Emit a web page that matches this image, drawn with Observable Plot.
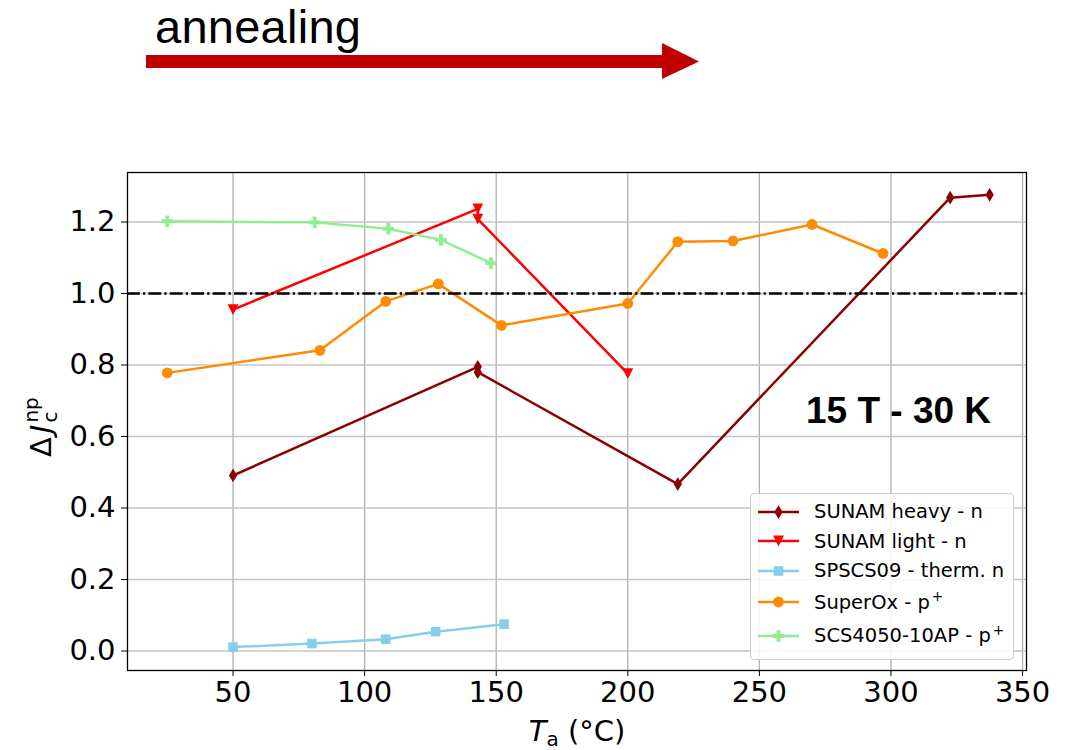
<!DOCTYPE html>
<html>
<head>
<meta charset="utf-8">
<script src="https://cdn.jsdelivr.net/npm/d3@7"></script>
<script src="https://cdn.jsdelivr.net/npm/@observablehq/plot@0.6"></script>
<style>
  body { margin: 0; background: #fff; }
  #wrap { position: relative; width: 1066px; height: 750px; overflow: hidden; font-family: "DejaVu Sans", sans-serif; }
  #header { display: block; }
  #chart svg { display: block; }
  #overlay { position: absolute; left: 0; top: 0; pointer-events: none; }
  #legend { position: absolute; left: 750px; top: 493px; width: 264px; height: 167px; box-sizing: border-box;
            border: 1px solid #cccccc; border-radius: 4px; background: rgba(255,255,255,0.85); padding-top: 3px; }
  .lrow { display: flex; align-items: center; font-size: 19.5px; color: #000; }
  .lrow svg { margin-left: 5px; margin-right: 15px; flex: none; }
  .lrow sup { font-size: 0.7em; vertical-align: 0.55em; line-height: 0; margin-left: 2px; }
</style>
</head>
<body>
<div id="wrap">
  <svg id="header" width="1066" height="130">
    <text x="155" y="43" font-family="Liberation Sans, Arial, sans-serif" font-size="47" textLength="206" fill="#000">annealing</text>
    <rect x="146" y="55" width="517" height="13" fill="#c00000"></rect>
    <polygon points="662,43 699,61.5 662,79" fill="#c00000"></polygon>
  </svg>
  <div id="chart"></div>
  <svg id="overlay" width="1066" height="750"></svg>
  <div id="legend"></div>
</div>
<script>
// ---------- data ----------
const seriesNames = ["SUNAM heavy - n", "SUNAM light - n", "SPSCS09 - therm. n", "SuperOx - p", "SCS4050-10AP - p"];
const seriesSup = ["", "", "", "+", "+"];
const seriesColors = ["#8b0000", "#ff0000", "#87ceeb", "#ff8c00", "#90ee90"];

const T_heavy = [50, 143, 143, 219, 322.5, 337.5];
const J_heavy = [0.491, 0.795, 0.780, 0.467, 1.268, 1.276];

const T_light = [50, 143, 143, 200];
const J_light = [0.955, 1.237, 1.208, 0.776];

const T_spscs = [50, 80, 108, 127, 153];
const J_spscs = [0.011, 0.021, 0.033, 0.054, 0.075];

const T_superox = [25, 83, 108, 128, 152, 200, 219, 240, 270, 297];
const J_superox = [0.778, 0.841, 0.978, 1.027, 0.911, 0.972, 1.145, 1.147, 1.193, 1.112];

const T_scs = [25, 81, 109, 129, 148];
const J_scs = [1.202, 1.199, 1.181, 1.150, 1.085];

const xTicks = [50, 100, 150, 200, 250, 300, 350];
const yTicks = [0.0, 0.2, 0.4, 0.6, 0.8, 1.0, 1.2];
const refLevel = [1.0];
const annotation = "15 T - 30 K";

// ---------- marker symbols (matplotlib-like) ----------
const rad = size => Math.sqrt(size / Math.PI);
const thinDiamond = { draw(ctx, size) { const r = rad(size);
  ctx.moveTo(0, -1.25 * r); ctx.lineTo(0.75 * r, 0); ctx.lineTo(0, 1.25 * r); ctx.lineTo(-0.75 * r, 0); ctx.closePath(); } };
const triDown = { draw(ctx, size) { const r = rad(size);
  ctx.moveTo(-r, -r); ctx.lineTo(r, -r); ctx.lineTo(0, r); ctx.closePath(); } };
const squareSym = { draw(ctx, size) { const r = rad(size);
  ctx.rect(-r, -r, 2 * r, 2 * r); } };
const circleSym = { draw(ctx, size) { const r = rad(size);
  ctx.moveTo(r, 0); ctx.arc(0, 0, r, 0, 2 * Math.PI); ctx.closePath(); } };
const plusFilled = { draw(ctx, size) { const r = rad(size), a = r / 3;
  ctx.moveTo(-a, -r); ctx.lineTo(a, -r); ctx.lineTo(a, -a); ctx.lineTo(r, -a); ctx.lineTo(r, a); ctx.lineTo(a, a);
  ctx.lineTo(a, r); ctx.lineTo(-a, r); ctx.lineTo(-a, a); ctx.lineTo(-r, a); ctx.lineTo(-r, -a); ctx.lineTo(-a, -a); ctx.closePath(); } };

const seriesT = [T_heavy, T_light, T_spscs, T_superox, T_scs];
const seriesJ = [J_heavy, J_light, J_spscs, J_superox, J_scs];
const seriesSym = [thinDiamond, triDown, squareSym, circleSym, plusFilled];
const seriesR = [5.5, 5.4, 4.8, 5.4, 5.8];

const series = seriesNames.map((name, i) => ({
  name, color: seriesColors[i], symbol: seriesSym[i], r: seriesR[i],
  rows: seriesT[i].map((t, k) => ({ T: t, J: seriesJ[i][k] }))
}));

// ---------- chart ----------
const marks = [
  Plot.gridX(xTicks, { stroke: "#b0b0b0", strokeOpacity: 1, strokeWidth: 1.3 }),
  Plot.gridY(yTicks, { stroke: "#c4c4c4", strokeOpacity: 1, strokeWidth: 1.3 }),
];
for (const s of series) {
  marks.push(Plot.line(s.rows, { x: "T", y: "J", stroke: s.color, strokeWidth: 2.5 }));
  marks.push(Plot.dot(s.rows, { x: "T", y: "J", symbol: s.symbol, r: s.r, fill: s.color, stroke: "none" }));
}
marks.push(
  Plot.ruleY(refLevel, { stroke: "#000", strokeWidth: 2.3, strokeDasharray: "12.8,3.2,2.2,3.2" }),
  Plot.frame({ stroke: "#000", strokeWidth: 1.3 }),
  Plot.axisX({ ticks: xTicks, tickSize: 6, tickPadding: 5, label: null, tickFormat: d3.format("d") }),
  Plot.axisY({ ticks: yTicks, tickSize: 6, tickPadding: 6, label: null, tickFormat: d3.format(".1f") })
);

const chart = Plot.plot({
  width: 1066,
  height: 620,
  marginTop: 42,
  marginBottom: 80,
  marginLeft: 127,
  marginRight: 40,
  x: { domain: [9.9, 351.5] },
  y: { domain: [-0.0545, 1.3385] },
  style: { fontFamily: "DejaVu Sans", fontSize: "29px", color: "#000", background: "transparent", overflow: "visible" },
  marks
});
document.getElementById("chart").appendChild(chart);

// ---------- overlay texts ----------
const ov = d3.select("#overlay");
ov.append("text")
  .attr("x", 806).attr("y", 423)
  .attr("font-family", "Liberation Sans, Arial, sans-serif").attr("font-weight", "bold").attr("font-size", 37)
  .text(annotation);

// x label: T_a (°C)
const xl = ov.append("text").attr("x", 577).attr("y", 741).attr("text-anchor", "middle")
  .attr("font-family", "DejaVu Sans").attr("font-size", 29);
xl.append("tspan").attr("font-style", "italic").text("T");
xl.append("tspan").attr("font-size", 20).attr("dy", 5).text("a");
xl.append("tspan").attr("dy", -5).text(" (°C)");

// y label: ΔJ_c^np
const yl = ov.append("text").attr("transform", "translate(51,457) rotate(-90)")
  .attr("font-family", "DejaVu Sans").attr("font-size", 29);
yl.append("tspan").text("Δ");
yl.append("tspan").attr("font-style", "italic").attr("dx", 4).text("J");
yl.append("tspan").attr("font-size", 20).attr("dx", 2).attr("dy", 6).text("c");
yl.append("tspan").attr("font-size", 20).attr("dx", -11).attr("dy", -19).text("np");

// ---------- legend ----------
const legend = d3.select("#legend");
series.forEach((s, i) => {
  const row = legend.append("div").attr("class", "lrow").style("height", seriesSup[i] ? "33.5px" : "29.5px");
  const sw = row.append("svg").attr("width", 43).attr("height", 20);
  sw.append("line").attr("x1", 2).attr("x2", 43).attr("y1", 10).attr("y2", 10)
    .attr("stroke", s.color).attr("stroke-width", 2.5);
  const p = d3.path();
  s.symbol.draw(p, Math.PI * s.r * s.r);
  sw.append("path").attr("d", p.toString()).attr("transform", "translate(22.5,10)").attr("fill", s.color);
  const lab = row.append("span").text(s.name);
  if (seriesSup[i]) lab.append("sup").text(seriesSup[i]);
});
</script>
</body>
</html>
